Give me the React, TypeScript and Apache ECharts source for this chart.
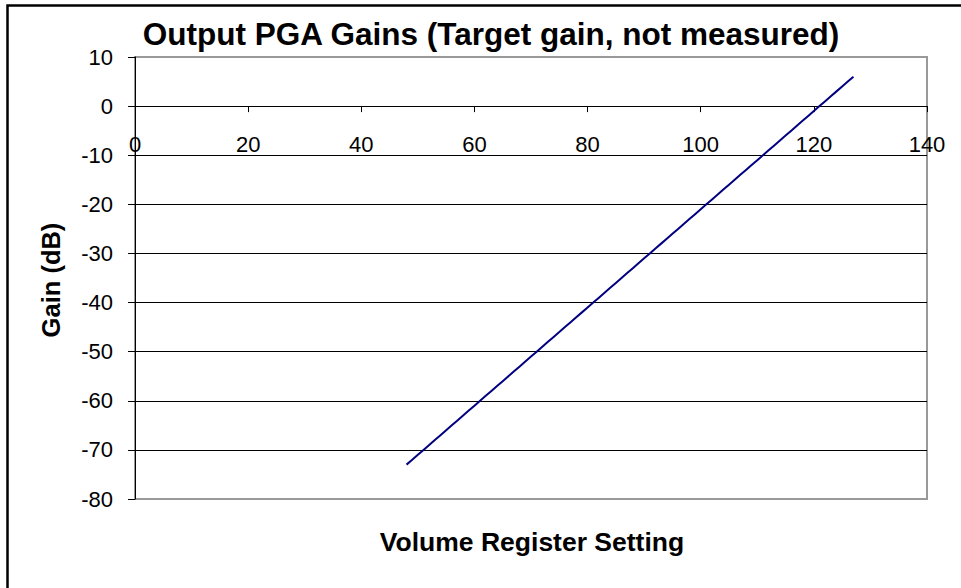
import React, { useEffect, useRef } from "react";
import * as echarts from "echarts";

const titleText = "Output PGA Gains (Target gain, not measured)";
const xAxisName = "Volume Register Setting";
const yAxisName = "Gain (dB)";

const registerSettings = [
  48, 49, 50, 51, 52, 53, 54, 55, 56, 57, 58, 59, 60, 61, 62, 63, 64, 65, 66, 67,
  68, 69, 70, 71, 72, 73, 74, 75, 76, 77, 78, 79, 80, 81, 82, 83, 84, 85, 86, 87,
  88, 89, 90, 91, 92, 93, 94, 95, 96, 97, 98, 99, 100, 101, 102, 103, 104, 105, 106, 107,
  108, 109, 110, 111, 112, 113, 114, 115, 116, 117, 118, 119, 120, 121, 122, 123, 124, 125, 126, 127,
];
const gainsDb = [
  -73, -72, -71, -70, -69, -68, -67, -66, -65, -64, -63, -62, -61, -60, -59, -58, -57, -56, -55, -54,
  -53, -52, -51, -50, -49, -48, -47, -46, -45, -44, -43, -42, -41, -40, -39, -38, -37, -36, -35, -34,
  -33, -32, -31, -30, -29, -28, -27, -26, -25, -24, -23, -22, -21, -20, -19, -18, -17, -16, -15, -14,
  -13, -12, -11, -10, -9, -8, -7, -6, -5, -4, -3, -2, -1, 0, 1, 2, 3, 4, 5, 6,
];

const FONT = "'Liberation Sans', Arial, sans-serif";
const Y_MIN = -80;
const Y_MAX = 10;

export default function App() {
  const ref = useRef<HTMLDivElement>(null);
  useEffect(() => {
    document.body.style.margin = "0";
    const chart = echarts.init(ref.current!, null, { renderer: "svg" });
    const data = registerSettings.map((x, i) => [x, gainsDb[i]]);
    const gridTop = 57;
    const gridBottom = 89;
    const plotH = 588 - gridTop - gridBottom;
    // place the x axis on the y = 0 line
    const zeroOffset = -(plotH * (0 - Y_MIN)) / (Y_MAX - Y_MIN);
    chart.setOption({
      animation: false,
      backgroundColor: "#ffffff",
      title: {
        text: titleText,
        left: 486,
        top: 13,
        textAlign: "center",
        textStyle: { fontFamily: FONT, fontSize: 31.5, fontWeight: "bold", color: "#000" },
      },
      grid: {
        left: 135,
        top: gridTop,
        right: 34,
        bottom: gridBottom,
        show: true,
        borderColor: "#999999",
        borderWidth: 2,
        backgroundColor: "#ffffff",
      },
      xAxis: {
        type: "value",
        min: 0,
        max: 140,
        interval: 20,
        offset: zeroOffset,
        axisLine: { show: true, onZero: false, lineStyle: { color: "#000", width: 1 } },
        axisTick: { show: true, length: 6, lineStyle: { color: "#000" } },
        axisLabel: { fontFamily: FONT, fontSize: 22, color: "#000", margin: 27 },
        splitLine: { show: false },
      },
      yAxis: {
        type: "value",
        min: Y_MIN,
        max: Y_MAX,
        interval: 10,
        axisLine: { show: true, onZero: false, lineStyle: { color: "#000", width: 1 } },
        axisTick: { show: true, length: 7, lineStyle: { color: "#000" } },
        axisLabel: { fontFamily: FONT, fontSize: 22, color: "#000", margin: 22 },
        splitLine: { show: true, showMinLine: false, showMaxLine: false, lineStyle: { color: "#000", width: 1 } },
      },
      graphic: [
        {
          type: "rect",
          shape: { x: 7.5, y: 5.5, width: 1200, height: 1200 },
          style: { fill: "none", stroke: "#000", lineWidth: 2.5 },
          silent: true,
        },
        {
          type: "text",
          x: 532,
          y: 542,
          style: {
            text: xAxisName,
            fontFamily: FONT,
            fontSize: 26.5,
            fontWeight: "bold",
            fill: "#000",
            textAlign: "center",
            textVerticalAlign: "middle",
          },
        },
        {
          type: "text",
          x: 51,
          y: 280,
          rotation: Math.PI / 2,
          style: {
            text: yAxisName,
            fontFamily: FONT,
            fontSize: 25.5,
            fontWeight: "bold",
            fill: "#000",
            textAlign: "center",
            textVerticalAlign: "middle",
          },
        },
      ],
      series: [
        {
          type: "line",
          data,
          showSymbol: false,
          symbol: "none",
          lineStyle: { color: "#000080", width: 2 },
          z: 5,
        },
      ],
    });
    return () => chart.dispose();
  }, []);
  return <div ref={ref} style={{ width: 961, height: 588 }} />;
}
